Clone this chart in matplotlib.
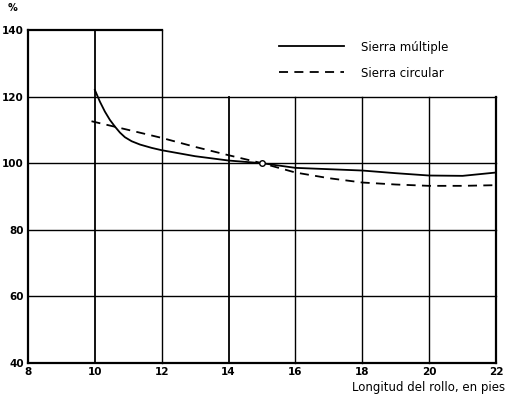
import matplotlib
matplotlib.use("Agg")
import matplotlib.pyplot as plt
from matplotlib.lines import Line2D

# Data
x_multiple = [10, 10.15, 10.3, 10.45, 10.6, 10.75, 10.9, 11.1, 11.35, 11.7, 12, 12.5, 13, 14, 15, 16, 17, 18, 19, 20, 21, 22]
y_multiple = [122, 118.5, 115.5, 113.0, 111.0, 109.2, 107.8, 106.6, 105.6, 104.6, 103.9, 103.0, 102.1, 100.8, 100, 98.6, 98.2, 97.8, 97.0, 96.3, 96.2, 97.2]
x_circular = [9.9, 11, 12, 13, 14, 15, 16, 17, 18, 19, 20, 21, 22]
y_circular = [112.6, 110.0, 107.6, 104.9, 102.4, 100, 97.2, 95.5, 94.2, 93.6, 93.2, 93.2, 93.4]
ref_point_x = [15]
ref_point_y = [100]
x_ticks = [8, 10, 12, 14, 16, 18, 20, 22]
y_ticks = [40, 60, 80, 100, 120, 140]
labels = ["Sierra múltiple", "Sierra circular"]

fig = plt.figure(figsize=(5.09, 3.99), dpi=100)
ax = fig.add_axes([28/509, 36/399, 468/509, 333/399])
ax.set_xlim(8, 22)
ax.set_ylim(40, 140)
for s in ax.spines.values():
    s.set_visible(False)

# frame & grid (L-shaped frame: top-right region left open for legend)
lw = 1.3
ax.plot([8, 8], [40, 140], color="black", lw=1.6, clip_on=False)
ax.plot([8, 22], [40, 40], color="black", lw=1.6, clip_on=False)
ax.plot([8, 12], [140, 140], color="black", lw=1.6, clip_on=False)
ax.plot([22, 22], [40, 120], color="black", lw=1.6, clip_on=False)
for xv in x_ticks[1:-1]:
    top = 140 if xv <= 12 else 120
    ax.plot([xv, xv], [40, top], color="black", lw=lw if xv in (10, 14) else 1.0, clip_on=False)
for yv in y_ticks[1:-1]:
    ax.plot([8, 22], [yv, yv], color="black", lw=1.0, clip_on=False)

ax.plot(x_multiple, y_multiple, color="black", lw=1.3, label=labels[0])
ax.plot(x_circular, y_circular, color="black", lw=1.3, ls=(0, (5, 3.5)), label=labels[1])
ax.plot(ref_point_x, ref_point_y, marker="o", ms=4, mfc="white", mec="black", mew=1.0, ls="none", zorder=5)

ax.set_xticks(x_ticks)
ax.set_yticks(y_ticks)
ax.set_xticklabels([str(v) for v in x_ticks], fontsize=7.5, fontweight="bold")
ax.set_yticklabels([str(v) for v in y_ticks], fontsize=7.5, fontweight="bold")
ax.tick_params(length=0, pad=3)

fig.text(13/509, 1 - 8/399, "%", fontsize=7, fontweight="bold", ha="center", va="center")
fig.text(505/509, 1 - 388/399, "Longitud del rollo, en pies", fontsize=8.5, ha="right", va="center")

handles = [Line2D([], [], color="black", lw=1.3),
           Line2D([], [], color="black", lw=1.3, ls=(0, (5, 3.5)))]
fig.legend(handles, labels, loc="upper left", bbox_to_anchor=(268/509, 1 - 30/399),
           frameon=False, handlelength=5.5, handletextpad=1.5, labelspacing=1.1, fontsize=8.5)

fig.savefig("out.png", dpi=100)
